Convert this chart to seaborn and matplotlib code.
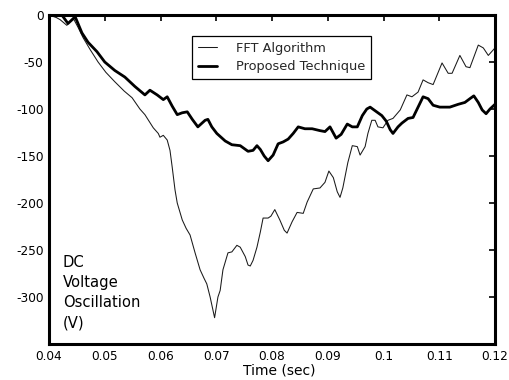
import matplotlib
matplotlib.use("Agg")
import matplotlib.pyplot as plt
import seaborn as sns
import pandas as pd

# ---- data ----
fft_t = [0.0400, 0.0411, 0.0420, 0.0432, 0.0443, 0.0452, 0.0461, 0.0474, 0.0488, 0.0502,
         0.0518, 0.0535, 0.0549, 0.0563, 0.0572, 0.0587, 0.0596, 0.0599, 0.0605, 0.0612,
         0.0617, 0.0621, 0.0626, 0.0630, 0.0639, 0.0646, 0.0653, 0.0662, 0.0671, 0.0678,
         0.0683, 0.0689, 0.0697, 0.0703, 0.0707, 0.0712, 0.0721, 0.0728, 0.0737, 0.0743,
         0.0752, 0.0757, 0.0761, 0.0766, 0.0773, 0.0779, 0.0784, 0.0793, 0.0798, 0.0805,
         0.0814, 0.0822, 0.0827, 0.0836, 0.0845, 0.0856, 0.0863, 0.0874, 0.0886, 0.0895,
         0.0902, 0.0910, 0.0917, 0.0922, 0.0927, 0.0936, 0.0944, 0.0953, 0.0958, 0.0967,
         0.0972, 0.0979, 0.0985, 0.0990, 0.0999, 0.1008, 0.1017, 0.1030, 0.1042, 0.1051,
         0.1062, 0.1071, 0.1080, 0.1089, 0.1105, 0.1116, 0.1123, 0.1137, 0.1148, 0.1155,
         0.1170, 0.1179, 0.1188, 0.1200]
fft_v = [0, -2, -5, -11, -3, -13, -24, -37, -50, -61,
         -71, -81, -88, -100, -106, -120, -126, -130, -128, -133,
         -144, -162, -186, -200, -218, -227, -234, -253, -271, -280,
         -286, -300, -322, -300, -293, -271, -253, -252, -245, -247,
         -257, -266, -267, -261, -247, -231, -216, -216, -214, -207,
         -218, -229, -232, -220, -210, -211, -199, -185, -184, -178,
         -166, -173, -188, -194, -184, -157, -139, -140, -149, -140,
         -126, -112, -112, -119, -120, -112, -110, -101, -85, -87,
         -82, -69, -72, -74, -51, -62, -62, -43, -55, -56,
         -32, -35, -43, -35]

prop_t = [0.0400, 0.0411, 0.0423, 0.0434, 0.0447, 0.0459, 0.0470, 0.0486, 0.0500, 0.0518,
          0.0536, 0.0554, 0.0572, 0.0581, 0.0594, 0.0605, 0.0612, 0.0621, 0.0630, 0.0639,
          0.0648, 0.0657, 0.0667, 0.0680, 0.0685, 0.0692, 0.0701, 0.0716, 0.0728, 0.0743,
          0.0757, 0.0766, 0.0773, 0.0779, 0.0786, 0.0793, 0.0802, 0.0811, 0.0820, 0.0829,
          0.0838, 0.0847, 0.0859, 0.0872, 0.0886, 0.0895, 0.0904, 0.0915, 0.0924, 0.0935,
          0.0944, 0.0953, 0.0962, 0.0970, 0.0976, 0.0983, 0.0990, 0.0997, 0.1005, 0.1012,
          0.1017, 0.1026, 0.1033, 0.1044, 0.1053, 0.1062, 0.1071, 0.1080, 0.1089, 0.1101,
          0.1119, 0.1134, 0.1146, 0.1155, 0.1162, 0.1170, 0.1177, 0.1184, 0.1191, 0.1200]
prop_v = [0, -1, 0, -9, -2, -19, -29, -39, -50, -59,
          -66, -76, -85, -80, -85, -90, -87, -97, -106, -104,
          -103, -111, -119, -112, -111, -119, -126, -134, -138, -139,
          -145, -144, -139, -143, -150, -155, -149, -137, -135, -132,
          -126, -119, -121, -121, -123, -124, -119, -131, -127, -116,
          -119, -119, -107, -100, -98, -101, -104, -107, -113, -122,
          -126, -119, -115, -110, -109, -98, -87, -89, -96, -98,
          -98, -95, -93, -89, -86, -93, -101, -105, -100, -95]

series_names = ["FFT Algorithm", "Proposed Technique"]
x_ticks = [0.04, 0.05, 0.06, 0.07, 0.08, 0.09, 0.1, 0.11, 0.12]
x_tick_labels = ["0.04", "0.05", "0.06", "0.07", "0.08", "0.09", "0.1", "0.11", "0.12"]
y_ticks = [0, -50, -100, -150, -200, -250, -300]
y_tick_labels = ["0", "-50", "-100", "-150", "-200", "-250", "-300"]
x_label = "Time (sec)"
y_label = "DC\nVoltage\nOscillation\n(V)"

# ---- plot ----
sns.set_theme(style="white")
plt.rcParams["font.family"] = ["DejaVu Sans"]
plt.rcParams["axes.unicode_minus"] = False

fig = plt.figure(figsize=(5.09, 3.80), dpi=100)
ax = fig.add_axes([0.0963, 0.0947, 0.8762, 0.8658])

df_fft = pd.DataFrame({"t": fft_t, "v": fft_v})
df_prop = pd.DataFrame({"t": prop_t, "v": prop_v})
sns.lineplot(data=df_fft, x="t", y="v", ax=ax, color="#1a1a1a", linewidth=0.75,
             sort=False, label=series_names[0])
sns.lineplot(data=df_prop, x="t", y="v", ax=ax, color="black", linewidth=2.0,
             sort=False, label=series_names[1])

ax.set_xlim(0.04, 0.12)
ax.set_ylim(-350, 0)
ax.set_xticks(x_ticks)
ax.set_xticklabels(x_tick_labels)
ax.set_yticks(y_ticks)
ax.set_yticklabels(y_tick_labels)
ax.tick_params(direction="in", length=4, width=1.2, top=True, right=True,
               labelsize=8.7, colors="black", pad=4)
for s in ax.spines.values():
    s.set_visible(True)
    s.set_color("black")
    s.set_linewidth(2.2)

ax.set_ylabel("")
ax.set_xlabel(x_label, fontsize=10, color="black")
ax.xaxis.set_label_coords(0.517, -0.058)

ax.text(0.031, 0.272, y_label, transform=ax.transAxes, ha="left", va="top",
        fontsize=10.6, linespacing=1.45, color="black")

leg = ax.legend(loc="upper left", bbox_to_anchor=(0.32, 0.936), fontsize=9.3,
                frameon=True, fancybox=False, framealpha=1, edgecolor="black",
                handlelength=1.5, handletextpad=1.5, borderpad=0.45,
                labelspacing=0.4, borderaxespad=0)
leg.get_frame().set_linewidth(0.9)

fig.savefig("out.png", dpi=100)
